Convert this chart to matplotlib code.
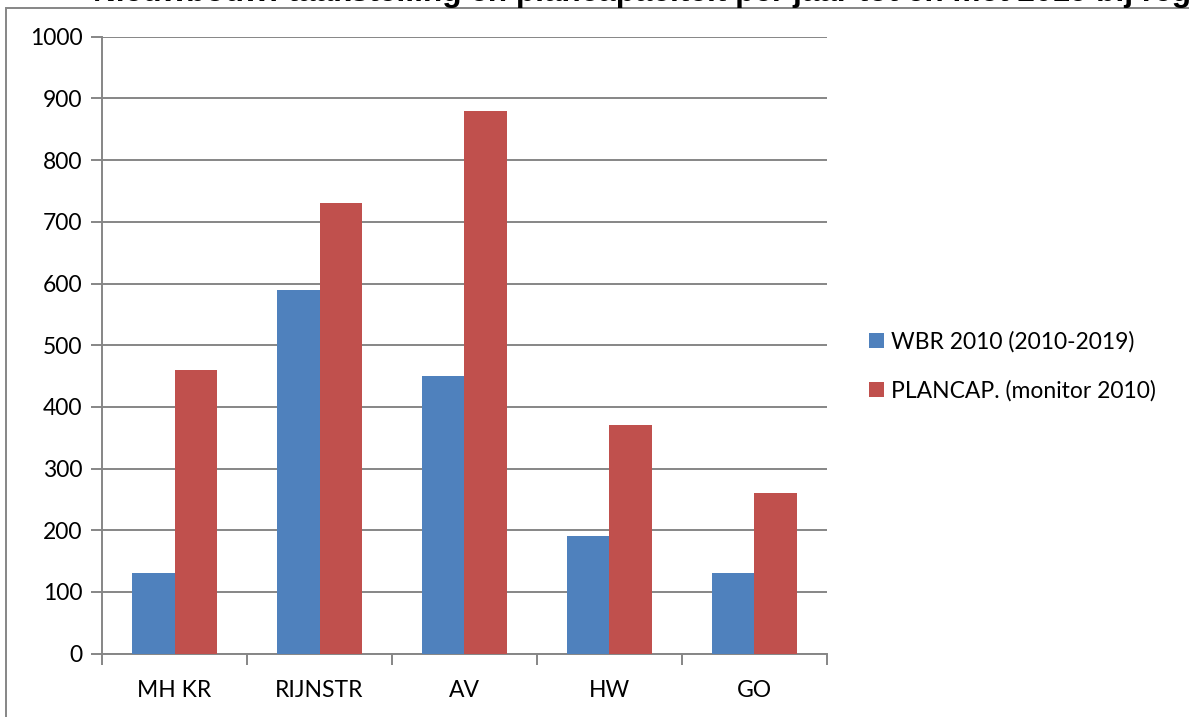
import matplotlib.pyplot as plt
from matplotlib.patches import Rectangle
from matplotlib.ticker import MultipleLocator, FixedLocator

kernen = ['MH KR', 'RIJNSTR', 'AV', 'HW', 'GO']
wbr = [130, 590, 450, 190, 130]
plancap = [460, 730, 880, 370, 260]
series_names = ['WBR 2010 (2010-2019)', 'PLANCAP. (monitor 2010)']

BLUE = '#4F81BD'
RED = '#C0504D'
GRID = '#868686'

plt.rcParams['font.family'] = ['Lato', 'DejaVu Sans']

W, H = 1189, 717
fig = plt.figure(figsize=(W / 100, H / 100), dpi=100)

# chart frame, with the title sitting above it (runs off the top edge)
fig.patches.append(Rectangle((6 / W, -0.1), 1.2, 1 - 8 / H + 0.1,
                             transform=fig.transFigure, fill=False,
                             edgecolor=GRID, lw=1.4))
fig.text(93 / W, 1 - 1.5 / H,
         'Nieuwbouw: taakstelling en plancapaciteit per jaar tot en met 2019 bij regio',
         ha='left', va='baseline', fontsize=22.7, fontweight='bold',
         family='Liberation Sans')

left, right, top, bottom = 102, 827, 36.7, 653.7
ax = fig.add_axes([left / W, 1 - bottom / H, (right - left) / W, (bottom - top) / H])

x = list(range(len(kernen)))
bw = 0.29
ax.bar([i - bw / 2 for i in x], wbr, width=bw, color=BLUE, label=series_names[0], zorder=3)
ax.bar([i + bw / 2 for i in x], plancap, width=bw, color=RED, label=series_names[1], zorder=3)

ax.set_xlim(-0.5, len(kernen) - 0.5)
ax.set_ylim(0, 1000)
ax.yaxis.set_major_locator(MultipleLocator(100))
ax.grid(axis='y', color=GRID, lw=1.4, zorder=0)
ax.set_axisbelow(True)

ax.set_xticks(x)
ax.set_xticklabels(kernen)
ax.xaxis.set_minor_locator(FixedLocator([i - 0.5 for i in range(len(kernen) + 1)]))
ax.tick_params(axis='x', which='major', length=0, pad=19, labelsize=16.5)
ax.tick_params(axis='x', which='minor', length=8, color=GRID, width=1.4)
ax.tick_params(axis='y', length=8, color=GRID, width=1.4, pad=6, labelsize=16.5)

for s in ['top', 'right']:
    ax.spines[s].set_visible(False)
for s in ['left', 'bottom']:
    ax.spines[s].set_color(GRID)
    ax.spines[s].set_linewidth(1.4)

ax.legend(loc='center left', bbox_to_anchor=(869 / W, 1 - 366 / H),
          bbox_transform=fig.transFigure, frameon=False, fontsize=16.5,
          handlelength=0.65, handleheight=0.65, handletextpad=0.3,
          labelspacing=1.2, borderaxespad=0, borderpad=0)

fig.savefig('out.png', dpi=100)
